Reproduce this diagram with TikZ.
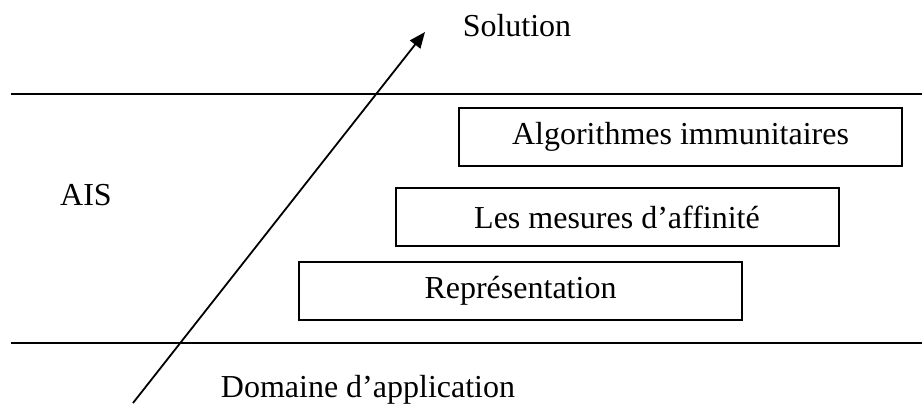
\documentclass[tikz,border=0pt]{standalone}
\usepackage{fontspec}
\setmainfont{Liberation Serif}
\usetikzlibrary{arrows.meta}
\begin{document}
\begin{tikzpicture}[x=0.5pt,y=-0.5pt,
  every node/.style={font=\fontsize{16pt}{19pt}\selectfont},
  layerbox/.style={draw,line width=1pt,inner sep=0pt,minimum width=221.5pt,minimum height=29pt},
  rule/.style={line width=0.9pt},
  axis/.style={line width=0.9pt,-{Triangle[length=8pt,width=6.5pt]}}]
\useasboundingbox (0,0) rectangle (922,403);
% horizontal rules
\coordinate (tl) at (11,94);
\coordinate (tr) at (922,94);
\coordinate (bl) at (11,343);
\coordinate (br) at (922,343);
\draw[rule] (tl) -- (tr);
\draw[rule] (bl) -- (br);
% boxes
\node[layerbox] (algo) at (680.5,137) {Algorithmes immunitaires};
\node[layerbox] (mes) at (617,217) {Les mesures d’affinité};
\node[layerbox] (rep) at (520.5,290.5) {Représentation};
% labels
\node[anchor=base] (sol) at (517,36) {Solution};
\node[anchor=base] (ais) at (86,205) {AIS};
\node[anchor=base] (dom) at (368,397) {Domaine d’application};
% arrow
\coordinate (a0) at (133,403);
\coordinate (a1) at (425,32);
\draw[axis] (a0) -- (a1);
\end{tikzpicture}
\end{document}
